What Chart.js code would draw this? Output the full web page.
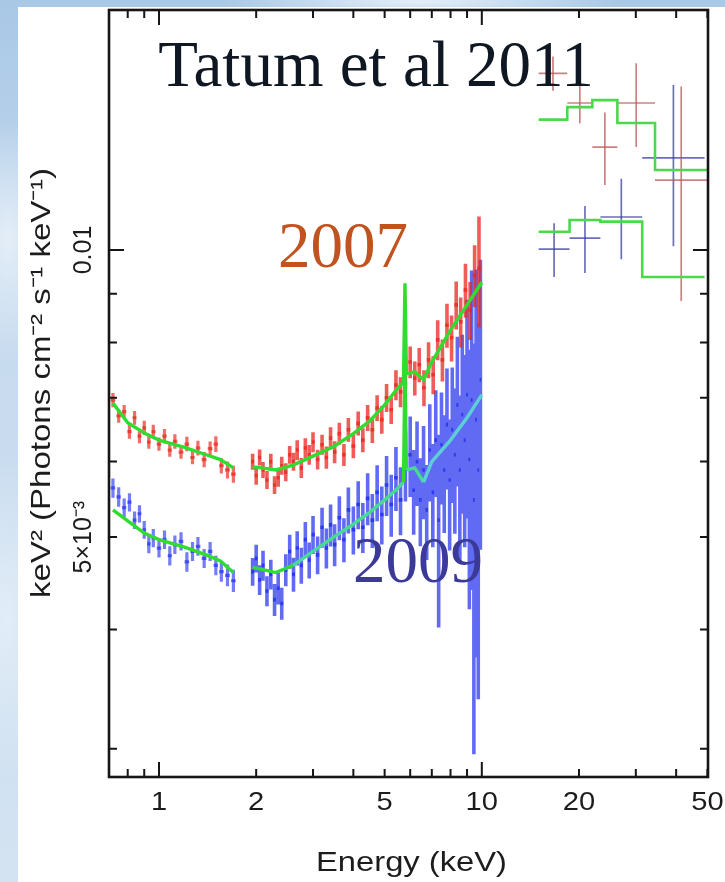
<!DOCTYPE html>
<html>
<head>
<meta charset="utf-8">
<title>Spectrum 2007 / 2009</title>
<script src="https://cdn.jsdelivr.net/npm/chart.js@4"></script>
<style>
  html, body { margin: 0; padding: 0; }
  body {
    width: 725px; height: 882px; position: relative; overflow: hidden;
    background:
      radial-gradient(ellipse 60px 120px at 8px 240px, #e4eef8 0%, rgba(228,238,248,0) 100%),
      radial-gradient(ellipse 60px 160px at 6px 620px, #e2edf7 0%, rgba(226,237,247,0) 100%),
      radial-gradient(ellipse 200px 14px at 420px 2px, #e6eff8 0%, rgba(230,239,248,0) 100%),
      linear-gradient(180deg, #a9c8e6 0%, #c6daee 35%, #d3e3f2 100%);
  }
  #panel { position: absolute; left: 18px; top: 7px; right: 0; bottom: 0; background: #fff; }
  #spec { position: absolute; left: 0; top: 0; }
  .note {
    position: absolute; font-family: "Liberation Serif", "Times New Roman", serif;
    font-size: 65px; line-height: 64px; text-align: center; white-space: nowrap;
  }
</style>
</head>
<body>
<div id="panel"></div>
<canvas id="spec" width="725" height="882"></canvas>
<div class="note" style="left:76px; width:600px; top:32px; color:#0f1723;">Tatum et al 2011</div>
<div class="note" style="left:243px; width:200px; top:213px; color:#c0531f;">2007</div>
<div class="note" style="left:318px; width:200px; top:528px; color:#3b3a98;">2009</div>

<script>
// ---------- DATA ----------
// soft band, both epochs share the same bins (keV)
const energyLow = [0.72, 0.75, 0.78, 0.81, 0.84, 0.87, 0.9, 0.93, 0.96, 1.0, 1.04, 1.08,
  1.12, 1.17, 1.22, 1.27, 1.32, 1.38, 1.44, 1.5, 1.56, 1.63, 1.7];
const flux2007Low = [0.00696, 0.00670, 0.00677, 0.00645, 0.00667, 0.00638, 0.00651, 0.00629,
  0.00645, 0.00626, 0.00638, 0.00617, 0.00630, 0.00614, 0.00626, 0.00606, 0.00620, 0.00603,
  0.00619, 0.00626, 0.00594, 0.00588, 0.00582];
const err2007Low = [0.00012, 0.00011, 0.00011, 0.00011, 0.00011, 0.00011, 0.00011, 0.00010,
  0.00011, 0.00010, 0.00011, 0.00010, 0.00011, 0.00010, 0.00011, 0.00010, 0.00011, 0.00011,
  0.00011, 0.00012, 0.00011, 0.00012, 0.00012];
const flux2009Low = [0.00563, 0.00551, 0.00537, 0.00544, 0.00521, 0.00529, 0.00509, 0.00492,
  0.00499, 0.00487, 0.00497, 0.00478, 0.00491, 0.00495, 0.00471, 0.00483, 0.00489, 0.00475,
  0.00483, 0.00467, 0.00460, 0.00456, 0.00450];
const err2009Low = [0.00013, 0.00013, 0.00012, 0.00012, 0.00011, 0.00011, 0.00011, 0.00011,
  0.00011, 0.00011, 0.00011, 0.00011, 0.00011, 0.00011, 0.00011, 0.00011, 0.00011, 0.00011,
  0.00011, 0.00011, 0.00011, 0.00012, 0.00012];

// hard band 2007
const energy2007Hi = [1.95, 2.0, 2.05, 2.1, 2.16, 2.22, 2.28, 2.34, 2.4, 2.47, 2.54, 2.61, 2.68,
  2.76, 2.84, 2.92, 3.0, 3.1, 3.2, 3.3, 3.4, 3.5, 3.62, 3.74, 3.86, 4.0, 4.14, 4.28, 4.43, 4.58,
  4.74, 4.9, 5.07, 5.24, 5.42, 5.6, 5.8, 6.0, 6.2, 6.4, 6.62, 6.84, 7.07, 7.3, 7.55, 7.8, 8.06,
  8.33, 8.6, 8.9, 9.2, 9.5, 9.8];
const flux2007Hi = [0.00600, 0.00580, 0.00606, 0.00588, 0.00574, 0.00600, 0.00567, 0.00577,
  0.00594, 0.00585, 0.00610, 0.00600, 0.00617, 0.00591, 0.00620, 0.00610, 0.00629, 0.00603,
  0.00625, 0.00606, 0.00635, 0.00614, 0.00642, 0.00610, 0.00648, 0.00623, 0.00658, 0.00632,
  0.00667, 0.00648, 0.00683, 0.00664, 0.00700, 0.00680, 0.00722, 0.00710, 0.00745, 0.00763,
  0.00734, 0.00758, 0.00717, 0.00767, 0.00740, 0.00805, 0.00767, 0.00834, 0.00809, 0.00876,
  0.00841, 0.00908, 0.00865, 0.00941, 0.00957];
const err2007Hi = [0.000116, 0.000126, 0.000117, 0.000113, 0.000125, 0.000116, 0.000123,
  0.000125, 0.000129, 0.000127, 0.000132, 0.000130, 0.000149, 0.000142, 0.000149, 0.000147,
  0.000152, 0.000145, 0.000151, 0.000161, 0.000168, 0.000163, 0.000170, 0.000162, 0.000187,
  0.000180, 0.000190, 0.000183, 0.000209, 0.000203, 0.000214, 0.000224, 0.000236, 0.000229,
  0.000261, 0.000257, 0.000287, 0.000294, 0.000301, 0.000311, 0.000311, 0.000333, 0.000339,
  0.000388, 0.000388, 0.000442, 0.000448, 0.000507, 0.000507, 0.000591, 0.000605, 0.000703,
  0.00127];

// hard band 2009
const energy2009Hi = [1.95, 2.0, 2.05, 2.1, 2.16, 2.22, 2.28, 2.34, 2.4, 2.47, 2.54, 2.61, 2.68,
  2.76, 2.84, 2.92, 3.0, 3.1, 3.2, 3.3, 3.4, 3.5, 3.62, 3.74, 3.86, 4.0, 4.14, 4.28, 4.43, 4.58,
  4.74, 4.9, 5.07, 5.24, 5.42, 5.6, 5.8, 6.0, 6.15, 6.3, 6.45, 6.6, 6.75, 6.9, 7.05, 7.2, 7.35,
  7.5, 7.65, 7.8, 7.95, 8.1, 8.25, 8.4, 8.55, 8.7, 8.85, 9.0, 9.15, 9.3, 9.45, 9.6, 9.75, 9.9];
const flux2009Hi = [0.00460, 0.00475, 0.00451, 0.00467, 0.00439, 0.00457, 0.00430, 0.00442,
  0.00426, 0.00462, 0.00483, 0.00457, 0.00487, 0.00467, 0.00497, 0.00473, 0.00503, 0.00479,
  0.00512, 0.00487, 0.00515, 0.00491, 0.00524, 0.00497, 0.00534, 0.00509, 0.00541, 0.00512,
  0.00549, 0.00521, 0.00557, 0.00528, 0.00567, 0.00541, 0.00577, 0.00547, 0.00595, 0.00610,
  0.00560, 0.00600, 0.00547, 0.00588, 0.00534, 0.00617, 0.00557, 0.00632, 0.00521, 0.00625,
  0.00588, 0.00656, 0.00574, 0.00648, 0.00610, 0.00688, 0.00588, 0.00672, 0.00632, 0.00705,
  0.00603, 0.00696, 0.00547, 0.00664, 0.00588, 0.00731];
const err2009Hi = [0.000155, 0.000160, 0.000163, 0.000169, 0.000159, 0.000165, 0.000166,
  0.000170, 0.000164, 0.000178, 0.000198, 0.000187, 0.000200, 0.000203, 0.000216, 0.000205,
  0.000230, 0.000219, 0.000247, 0.000235, 0.000261, 0.000249, 0.000278, 0.000264, 0.000296,
  0.000294, 0.000313, 0.000308, 0.000344, 0.000339, 0.000376, 0.000369, 0.000410, 0.000404,
  0.000445, 0.000448, 0.000502, 0.00059, 0.00057, 0.00061, 0.00058, 0.00066, 0.00061, 0.00072,
  0.00069, 0.00081, 0.00119, 0.00084, 0.00083, 0.00095, 0.00090, 0.00105, 0.00106, 0.00123,
  0.00116, 0.00143, 0.00144, 0.00182, 0.00183, 0.00256, 0.00251, 0.00290, 0.00250, 0.00246];

// best-fit models
const modelELow = [0.72, 0.8, 0.9, 1.0, 1.2, 1.4, 1.55, 1.7];
const model2007Low = [0.00691, 0.00659, 0.00643, 0.00632, 0.00621, 0.00610, 0.00603, 0.00591];
const model2009Low = [0.00534, 0.00520, 0.00505, 0.00497, 0.00488, 0.00479, 0.00472, 0.00459];
const modelEHi = [1.95, 2.0, 2.3, 2.6, 3.0, 3.5, 4.0, 4.5, 5.0, 5.5, 5.72, 5.78, 5.84, 6.2,
  6.6, 7.0, 8.0, 9.0, 10];
const model2007Hi = [0.00592, 0.00592, 0.00588, 0.00595, 0.00608, 0.00623, 0.00642, 0.00662,
  0.00688, 0.00717, 0.00727, 0.00923, 0.00742, 0.00745, 0.00731, 0.00763, 0.00824, 0.00876,
  0.00925];
const model2009Hi = [0.00465, 0.00464, 0.00459, 0.00467, 0.00483, 0.00501, 0.00516, 0.00531,
  0.00547, 0.00563, 0.00571, 0.00758, 0.00588, 0.00591, 0.00571, 0.00600, 0.00632, 0.00667,
  0.00705];

// 15-50 keV bins
const bat2007Edges = [15.0, 18.4, 22.0, 26.3, 34.4, 50];
const bat2007Flux = [0.01532, 0.01426, 0.01282, 0.01426, 0.01184];
const bat2007Err = [0.00063, 0.00068, 0.00112, 0.00144, 0.0030];
const bat2007Model = [0.01370, 0.01412, 0.01436, 0.01359, 0.01213];
const bat2009Edges = [15.0, 18.7, 23.3, 31.4, 49.0];
const bat2009Flux = [0.01002, 0.01029, 0.01083, 0.01249];
const bat2009Err = [0.00065, 0.00083, 0.00105, 0.0024];
const bat2009Model = [0.01045, 0.01075, 0.01071, 0.00937];

// axes
const xTickMarks = [0.8, 0.9, 1, 2, 3, 4, 5, 6, 7, 8, 9, 10, 20, 30, 40, 50];
const xMajorTicks = [1, 10];
const xTickLabels = [1, 2, 5, 10, 20, 50];
const yTickMarks = [0.003, 0.004, 0.005, 0.006, 0.007, 0.008, 0.009, 0.01];
const yMajorTicks = [0.01];
const yTickValues = [0.01, 0.005];
const yTickLabels = ["0.01", "5\u00d710\u207b\u00b3"];

// ---------- helpers ----------
const RED = "rgba(232, 40, 30, 0.68)";
const RED_HI = "rgba(232, 36, 28, 0.74)";
const BLUE = "rgba(24, 38, 236, 0.6)";
const BLUE_HI = "rgba(22, 36, 238, 0.68)";
const GREEN = "#30dc30";

// bin edges halfway (in log) between neighbouring channels
function binEdges(E) {
  return E.map((e, i) => {
    const prev = i > 0 ? E[i - 1] : e * e / E[i + 1];
    const next = i < E.length - 1 ? E[i + 1] : e * e / E[i - 1];
    return [Math.sqrt(prev * e), Math.sqrt(e * next)];
  });
}

// error bars as gapped line segments
function crosses(E, V, err, color, width, shrink) {
  const edges = binEdges(E);
  const vert = [], horiz = [];
  E.forEach((e, i) => {
    vert.push({ x: e, y: V[i] - err[i] }, { x: e, y: V[i] + err[i] }, { x: e, y: null });
    const lo = Math.pow(edges[i][0], shrink) * Math.pow(e, 1 - shrink);
    const hi = Math.pow(edges[i][1], shrink) * Math.pow(e, 1 - shrink);
    horiz.push({ x: lo, y: V[i] }, { x: hi, y: V[i] }, { x: hi, y: null });
  });
  return [vert, horiz].map(d => ({
    data: d, borderColor: color, borderWidth: width, pointRadius: 0,
    spanGaps: false, borderCapStyle: "butt", order: 5
  }));
}

function batCrosses(edges, V, err, color) {
  const vert = [], horiz = [];
  V.forEach((v, i) => {
    const mid = Math.sqrt(edges[i] * edges[i + 1]);
    vert.push({ x: mid, y: v - err[i] }, { x: mid, y: v + err[i] }, { x: mid, y: null });
    horiz.push({ x: edges[i], y: v }, { x: edges[i + 1], y: v }, { x: edges[i + 1], y: null });
  });
  return [vert, horiz].map(d => ({
    data: d, borderColor: color, borderWidth: 1.7, pointRadius: 0,
    spanGaps: false, order: 5
  }));
}

function modelLine(E, V, extra) {
  return Object.assign({
    data: E.map((e, i) => ({ x: e, y: V[i] })),
    borderColor: GREEN, borderWidth: 3.4, pointRadius: 0, order: 1
  }, extra || {});
}

function stepModel(edges, V) {
  const pts = V.map((v, i) => ({ x: edges[i], y: v }));
  pts.push({ x: edges[V.length], y: V[V.length - 1] });
  return { data: pts, borderColor: "#4cd84c", borderWidth: 2.6, pointRadius: 0, stepped: true, order: 1 };
}

const datasets = [].concat(
  crosses(energyLow, flux2007Low, err2007Low, RED, 3.2, 0.8),
  crosses(energy2007Hi, flux2007Hi, err2007Hi, RED_HI, 3.6, 0.8),
  crosses(energyLow, flux2009Low, err2009Low, BLUE, 3.2, 0.8),
  crosses(energy2009Hi, flux2009Hi, err2009Hi, BLUE_HI, 3.6, 0.8),
  batCrosses(bat2007Edges, bat2007Flux, bat2007Err, "rgba(190, 85, 85, 0.75)"),
  batCrosses(bat2009Edges, bat2009Flux, bat2009Err, "rgba(60, 60, 170, 0.75)"),
  [
    modelLine(modelELow, model2007Low),
    modelLine(modelEHi, model2007Hi),
    modelLine(modelELow, model2009Low),
    modelLine(modelEHi, model2009Hi, {
      // green under the line feature, paler where it crosses the dense 2009 points
      segment: {
        borderColor: c => {
          const e = c.p0.parsed.x;
          if (e >= 6.6) return "rgb(92, 206, 214)";
          if (e >= 2.6 && (e < 5.7 || e > 5.8)) return "rgb(70, 218, 150)";
          return GREEN;
        }
      }
    }),
    stepModel(bat2007Edges, bat2007Model),
    stepModel(bat2009Edges, bat2009Model)
  ]
);

// stretched text, as the plot package draws wide glyphs
function wideText(ctx, text, x, y, font, sx, angle) {
  ctx.save();
  ctx.font = font;
  ctx.translate(x, y);
  ctx.rotate(angle || 0);
  ctx.scale(sx, 1);
  ctx.textAlign = "center";
  ctx.textBaseline = "middle";
  ctx.fillText(text, 0, 0);
  ctx.restore();
}

function fitText(ctx, text, x, y, font, width, angle) {
  ctx.save();
  ctx.font = font;
  const w = ctx.measureText(text).width;
  ctx.restore();
  wideText(ctx, text, x, y, font, width / w, angle);
}

// frame with inward ticks and the axis labels
const framePlugin = {
  id: "frame",
  afterDatasetsDraw(chart) {
    const { ctx, chartArea: a, scales: { x, y } } = chart;
    ctx.save();
    ctx.strokeStyle = "#151515";
    ctx.lineWidth = 2;
    ctx.beginPath();
    xTickMarks.forEach(v => {
      const px = x.getPixelForValue(v);
      const len = xMajorTicks.includes(v) ? 15 : 8;
      ctx.moveTo(px, a.bottom); ctx.lineTo(px, a.bottom - len);
      ctx.moveTo(px, a.top); ctx.lineTo(px, a.top + len);
    });
    yTickMarks.forEach(v => {
      const py = y.getPixelForValue(v);
      const len = yMajorTicks.includes(v) ? 15 : 8;
      ctx.moveTo(a.left, py); ctx.lineTo(a.left + len, py);
      ctx.moveTo(a.right, py); ctx.lineTo(a.right - len, py);
    });
    ctx.stroke();
    ctx.lineWidth = 2.6;
    ctx.strokeRect(a.left, a.top, a.right - a.left, a.bottom - a.top);

    ctx.fillStyle = "#1c1c1c";
    const sans = '"Liberation Sans", Arial, sans-serif';
    xTickLabels.forEach(v => {
      wideText(ctx, String(v), x.getPixelForValue(v), a.bottom + 26, "26px " + sans, 1.12);
    });
    yTickValues.forEach((v, i) => {
      wideText(ctx, yTickLabels[i], 84, y.getPixelForValue(v), "25px " + sans, 1.0, -Math.PI / 2);
    });
    fitText(ctx, "Energy (keV)", (a.left + a.right) / 2 + 3, 864, "27px " + sans, 191);
    fitText(ctx, "keV\u00b2 (Photons cm\u207b\u00b2 s\u207b\u00b9 keV\u207b\u00b9)", 42, 383,
      "28px " + sans, 430, -Math.PI / 2);
    ctx.restore();
  }
};

new Chart(document.getElementById("spec"), {
  type: "line",
  data: { datasets },
  options: {
    responsive: false,
    animation: false,
    parsing: true,
    layout: { padding: { left: 109, right: 17, top: 10, bottom: 105 } },
    plugins: { legend: { display: false }, tooltip: { enabled: false } },
    scales: {
      x: { type: "logarithmic", min: 0.711, max: 50.2, display: false },
      y: { type: "logarithmic", min: 0.002802, max: 0.01785, display: false }
    }
  },
  plugins: [framePlugin]
});
</script>
</body>
</html>
